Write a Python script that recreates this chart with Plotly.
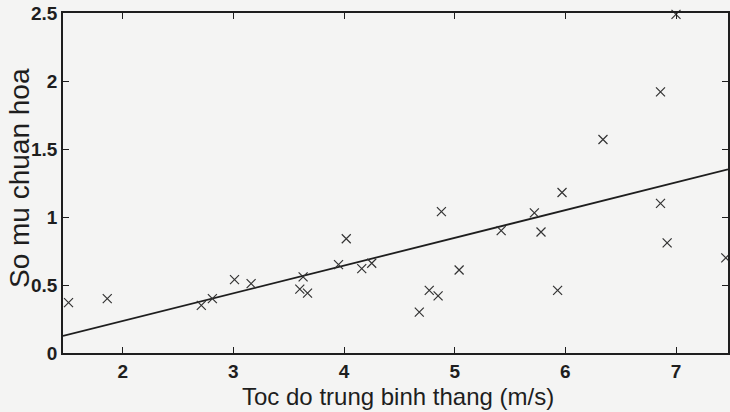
import plotly.graph_objects as go

# Scatter data (wind speed m/s vs normalized coefficient)
speed = [1.51, 1.86, 2.71, 2.81, 3.01, 3.16, 3.60, 3.63, 3.67, 3.95, 4.02, 4.16,
         4.25, 4.68, 4.77, 4.85, 4.88, 5.04, 5.42, 5.72, 5.78, 5.93, 5.97, 6.34,
         6.86, 6.86, 6.92, 7.00, 7.45]
coef = [0.37, 0.40, 0.35, 0.40, 0.54, 0.51, 0.47, 0.56, 0.44, 0.65, 0.84, 0.62,
        0.66, 0.30, 0.46, 0.42, 1.04, 0.61, 0.90, 1.03, 0.89, 0.46, 1.18, 1.57,
        1.10, 1.92, 0.81, 2.49, 0.70]

# Regression line end points
line_x = [1.46, 7.47]
line_y = [0.125, 1.35]

x_ticks = [2, 3, 4, 5, 6, 7]
y_ticks = [0, 0.5, 1, 1.5, 2, 2.5]
y_tick_labels = ["0", "0.5", "1", "1.5", "2", "2.5"]

x_title = "Toc do trung binh thang (m/s)"
y_title = "So mu chuan hoa"

ink = "#1e1e1e"
bg = "#f4f4f3"

fig = go.Figure()
fig.add_trace(go.Scatter(x=line_x, y=line_y, mode="lines",
                         line=dict(color=ink, width=1.8), showlegend=False))
fig.add_trace(go.Scatter(x=speed, y=coef, mode="markers", cliponaxis=False,
                         marker=dict(symbol="x-thin", size=9,
                                     line=dict(color="#333333", width=1.2)),
                         showlegend=False))

fig.update_layout(
    width=730, height=412,
    margin=dict(l=63, r=0, t=13, b=59),
    paper_bgcolor=bg, plot_bgcolor=bg,
    font=dict(family="Liberation Sans, Arial, sans-serif", size=15, color=ink),
    xaxis=dict(range=[1.46, 7.47], tickvals=x_ticks, ticks="inside", ticklen=6,
               tickcolor=ink, showgrid=False, zeroline=False, showline=True,
               linecolor=ink, linewidth=1.5, mirror="ticks",
               ticklabeloverflow="allow",
               tickfont=dict(size=19, color=ink, weight="bold")),
    yaxis=dict(range=[0, 2.5], tickvals=y_ticks, ticktext=y_tick_labels,
               ticks="inside", ticklen=6, tickcolor=ink, showgrid=False,
               zeroline=False, showline=True, linecolor=ink, linewidth=1.5,
               mirror="ticks", ticklabeloverflow="allow",
               tickfont=dict(size=19, color=ink, weight="bold")),
    annotations=[
        dict(text=y_title, textangle=-90, xref="paper", yref="paper",
             x=0, y=0.5, xanchor="center", yanchor="middle",
             xshift=-44, yshift=5, showarrow=False,
             font=dict(size=28, color=ink)),
        dict(text=x_title, xref="paper", yref="paper",
             x=0.5, y=0, xanchor="center", yanchor="top",
             xshift=2, yshift=-28, showarrow=False,
             font=dict(size=24, color=ink)),
    ],
)

fig.write_html("out.html", config={"displayModeBar": False},
               post_script="document.body.style.margin='0';")
